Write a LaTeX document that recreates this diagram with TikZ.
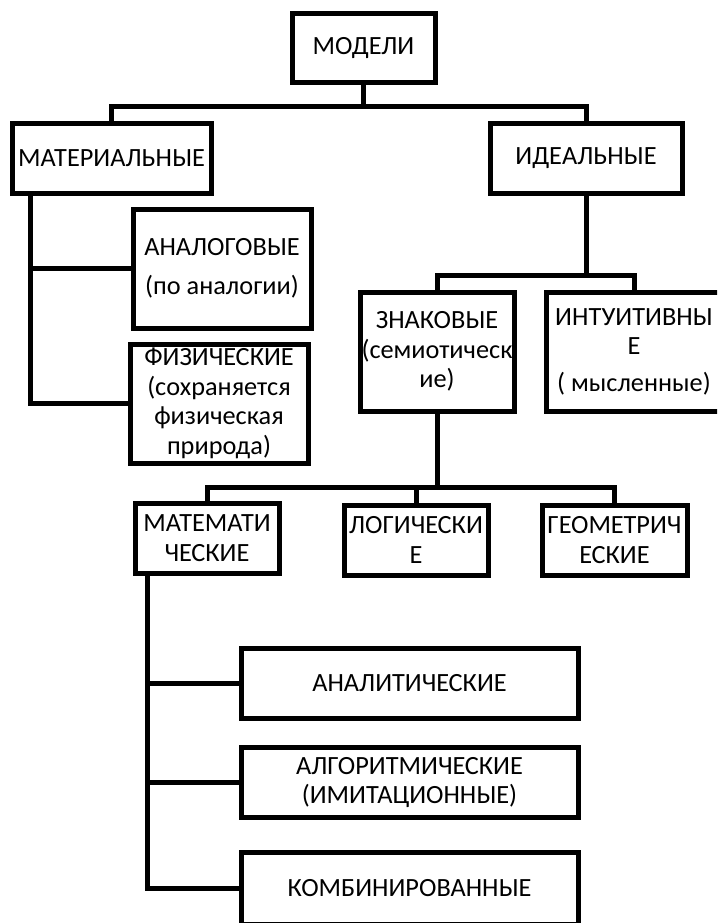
\documentclass[tikz,border=0pt]{standalone}
\usepackage{fontspec}
\setmainfont{Carlito}

\begin{document}
\begin{tikzpicture}[x=1pt,y=-1pt,
        font=\fontsize{26.3}{29.5}\selectfont,
        mbox/.style={draw,line width=5pt,rectangle,inner sep=1pt,align=center},
        wide/.style={mbox,minimum width=337pt,minimum height=70pt},
        link/.style={line width=5pt}]
    \useasboundingbox (0,0) rectangle (717,923);
    \clip (0,0) rectangle (717,923);

    % top level
    \node[mbox,minimum width=143pt,minimum height=69pt] (modeli) at (363.5,48.5) {МОДЕЛИ};
    \node[mbox,minimum width=199pt,minimum height=69pt] (mater) at (111.5,158.5) {МАТЕРИАЛЬНЫЕ};
    \node[mbox,minimum width=192pt,minimum height=69pt] (ideal) at (586,158.5) {ИДЕАЛЬНЫЕ};

    % material branch
    \node[mbox,minimum width=178pt,minimum height=119pt] (analog) at (222,268.5)
        {АНАЛОГОВЫЕ\\[10pt](по аналогии)};
    \node[mbox,minimum width=178pt,minimum height=119pt] (phys) at (219,403.5)
        {ФИЗИЧЕСКИЕ\\(сохраняется\\физическая\\природа)};

    % ideal branch
    \node[mbox,minimum width=154pt,minimum height=119pt] (znak) at (437,351.5)
        {ЗНАКОВЫЕ\\(семиотическ\\ие)};
    \node[mbox,minimum width=176pt,minimum height=119pt] (intuit) at (634,351.5)
        {ИНТУИТИВНЫ\\Е\\[7pt]( мысленные)};

    % sign models
    \node[mbox,minimum width=144pt,minimum height=70pt] (matem) at (207,538) {МАТЕМАТИ\\ЧЕСКИЕ};
    \node[mbox,minimum width=144pt,minimum height=70pt] (logic) at (416,540) {ЛОГИЧЕСКИ\\Е};
    \node[mbox,minimum width=145pt,minimum height=70pt] (geom) at (614.5,540) {ГЕОМЕТРИЧ\\ЕСКИЕ};

    % mathematical models
    \node[wide] (analyt) at (409.5,683.5) {АНАЛИТИЧЕСКИЕ};
    \node[wide] (algor) at (409.5,782.5) {АЛГОРИТМИЧЕСКИЕ\\(ИМИТАЦИОННЫЕ)};
    \node[wide,minimum height=72pt] (kombi) at (409.5,888) {КОМБИНИРОВАННЫЕ};

    % bus points
    \coordinate (topbus) at (363.5,107);
    \coordinate (idbus) at (586,275);
    \coordinate (znbus) at (437,487);

    % connectors
    \draw[link] (modeli) -- (topbus);
    \draw[link] (mater) |- (topbus) -| (ideal);
    \draw[link] ([xshift=21pt]mater.south west) |- (analog.west);
    \draw[link] ([xshift=21pt]mater.south west) |- (phys.west);
    \draw[link] (ideal) -- (idbus);
    \draw[link] (znak) |- (idbus) -| (intuit);
    \draw[link] (znak) -- (znbus);
    \draw[link] (matem) |- (znbus) -| (geom);
    \draw[link] (logic) -- (logic |- znbus);
    \draw[link] ([xshift=15pt]matem.south west) |- (analyt.west);
    \draw[link] ([xshift=15pt]matem.south west) |- (algor.west);
    \draw[link] ([xshift=15pt]matem.south west) |- (kombi.west);
\end{tikzpicture}
\end{document}
